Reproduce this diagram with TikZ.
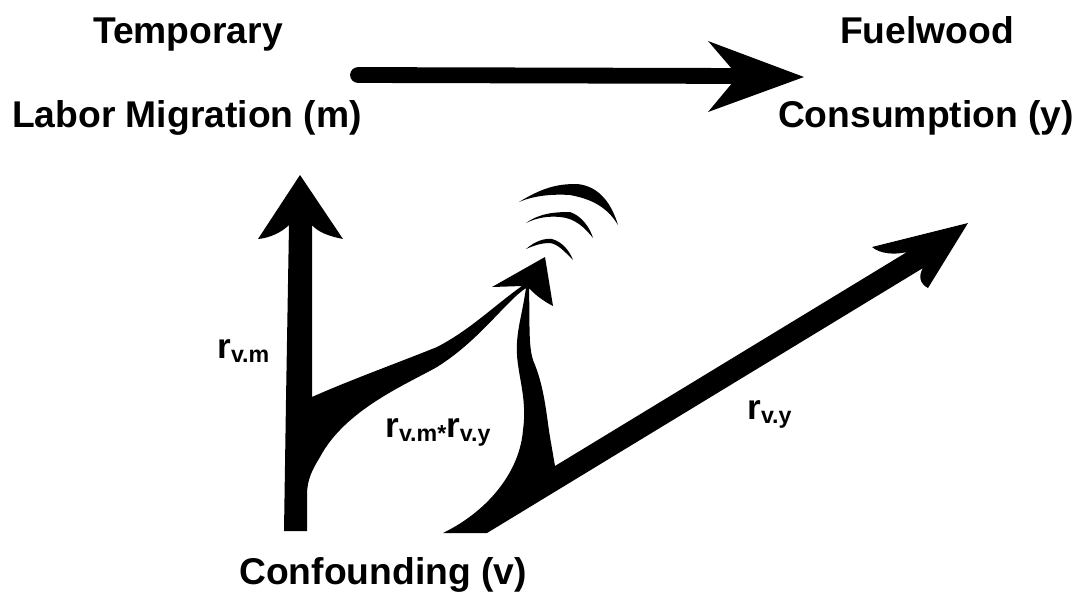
\documentclass[tikz,border=0pt]{standalone}
\usepackage{fontspec}
\setmainfont{Liberation Sans}
\tikzset{
  bigtxt/.style={inner sep=0pt,anchor=base,font=\fontsize{21.2}{24}\selectfont\bfseries},
  subtxt/.style={inner sep=0pt,anchor=base west,font=\fontsize{20}{24}\selectfont\bfseries},
  blob/.style={fill=black,draw=none}
}
\newcommand{\lbl}[1]{r\raisebox{-2.8pt}{\fontsize{13.2}{15}\selectfont #1}}
\begin{document}
\begin{tikzpicture}[x=0.02cm,y=-0.02cm]
  \useasboundingbox (0,0) rectangle (1085,596);
  % Labels
  \node[bigtxt] (temporary) at (188,43) {Temporary};
  \node[bigtxt] (labor) at (187,127) {Labor Migration (m)};
  \node[bigtxt] (fuelwood) at (927,43) {Fuelwood};
  \node[bigtxt] (consumption) at (926,127) {Consumption (y)};
  \node[bigtxt] (confounding) at (383,584) {Confounding (v)};
  \node[subtxt] (rvm) at (217,358) {\lbl{v.m}};
  \node[subtxt] (rvmy) at (385,437) {\lbl{v.m*}\lbl{v.y}};
  \node[subtxt] (rvy) at (747,419) {\lbl{v.y}};
  % Top arrow
  \draw[line width=9pt,line cap=round] (358,75) -- (750,76);
  \fill[blob] (804,77) -- (708,41) -- (738,76) -- (708,112) -- cycle;
  % Arrows from the confounder
  \fill[blob] (300,175) -- (343,239) .. controls (328,236) and (318,232) .. (312,225)
    -- (312,397) .. controls (350,380) and (400,362) .. (437,347)
    .. controls (470,330) and (495,305) .. (522,286)
    -- (492,287) -- (545,257) -- (553,306) .. controls (545,302) and (535,295) .. (529,288)
    .. controls (530,330) and (528,350) .. (535,365)
    .. controls (545,390) and (547,420) .. (550,437) -- (555,466) -- (907,252)
    .. controls (895,255) and (880,254) .. (872,247) -- (968,223) -- (928,288)
    .. controls (920,284) and (918,276) .. (923,268) -- (487,533) -- (443,533)
    .. controls (490,510) and (520,470) .. (523,430)
    .. controls (528,395) and (515,370) .. (517,343)
    .. controls (518,325) and (522,315) .. (526,288)
    .. controls (505,302) and (480,340) .. (437,367)
    .. controls (405,385) and (345,410) .. (320,457)
    .. controls (312,470) and (307,480) .. (307,495)
    -- (307,531) -- (284,531) -- (286,400) -- (289,225)
    .. controls (282,232) and (270,238) .. (258,239) -- cycle;
  % Arcs above the small head
  \fill[blob] (519,202) .. controls (545,186) and (560,184) .. (577,184)
    .. controls (600,186) and (612,205) .. (618,225)
    .. controls (610,212) and (598,200) .. (570,195)
    .. controls (555,194) and (535,195) .. cycle;
  \fill[blob] (526,223) .. controls (540,213) and (555,212) .. (570,212)
    .. controls (582,216) and (590,228) .. (593,238)
    .. controls (585,228) and (575,218) .. (560,217)
    .. controls (550,216) and (538,217) .. cycle;
  \fill[blob] (526,249) .. controls (535,241) and (545,238) .. (552,239)
    .. controls (563,242) and (570,252) .. (573,260)
    .. controls (565,252) and (558,244) .. (550,243)
    .. controls (542,243) and (535,245) .. cycle;
\end{tikzpicture}
\end{document}
